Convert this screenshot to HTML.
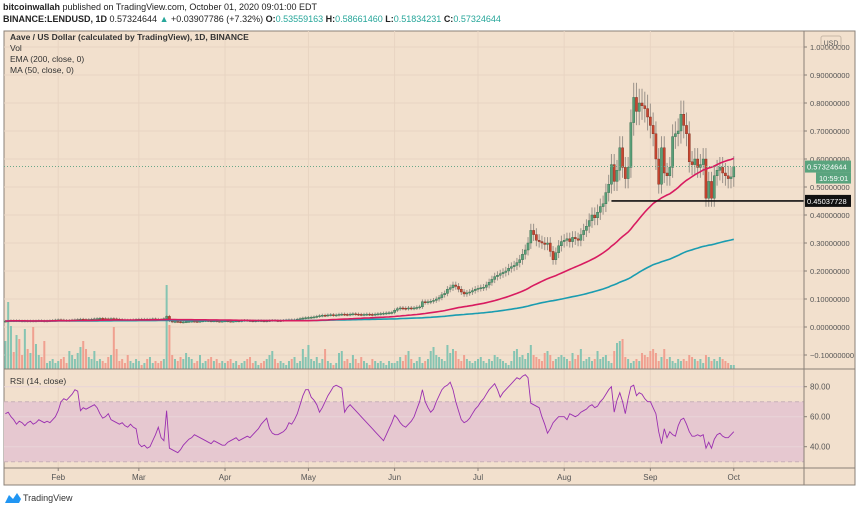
<!DOCTYPE html>
<html><head><meta charset="utf-8">
<style>
body{margin:0;width:860px;height:509px;background:#fff;font-family:"Liberation Sans",sans-serif;overflow:hidden;position:relative}
.hdr{position:absolute;left:3px;font-size:9px;color:#222;white-space:nowrap}
.g{color:#26a69a}
svg{position:absolute;left:0;top:0}
</style></head><body>
<div class="hdr" style="top:2px"><b>bitcoinwallah</b> published on TradingView.com, October 01, 2020 09:01:00 EDT</div>
<div class="hdr" style="top:14px"><b>BINANCE:LENDUSD, 1D</b> 0.57324644 <span class="g">▲</span> +0.03907786 (+7.32%) <b>O:</b><span class="g">0.53559163</span> <b>H:</b><span class="g">0.58661460</span> <b>L:</b><span class="g">0.51834231</span> <b>C:</b><span class="g">0.57324644</span></div>
<svg id="c" width="860" height="509"></svg>
<script>
const months=["Feb","Mar","Apr","May","Jun","Jul","Aug","Sep","Oct"];
const monthDay=[19,48,79,109,140,170,201,232,262];
const priceTicks=[-0.1,0,0.1,0.2,0.3,0.4,0.5,0.6,0.7,0.8,0.9,1.0];
const rsiTicks=[40,60,80];
const closes=[0.021,0.022,0.023,0.022,0.023,0.022,0.021,0.022,0.021,0.022,0.021,0.022,0.023,0.022,0.021,0.022,0.023,0.024,0.025,
0.026,0.025,0.024,0.023,0.024,0.025,0.026,0.027,0.028,0.027,0.026,0.027,0.028,0.029,0.030,0.031,0.030,0.029,0.028,0.030,0.029,0.028,0.027,0.026,0.025,0.024,0.025,0.026,0.027,
0.028,0.027,0.028,0.027,0.028,0.029,0.028,0.027,0.026,0.030,0.038,0.022,0.018,0.020,0.019,0.017,0.018,0.019,0.020,0.021,0.020,0.019,0.021,0.022,0.023,0.022,0.021,0.022,0.021,0.020,0.021,
0.022,0.021,0.020,0.021,0.022,0.021,0.023,0.024,0.023,0.022,0.021,0.022,0.023,0.022,0.021,0.022,0.023,0.024,0.023,0.022,0.023,0.024,0.025,0.026,0.025,0.026,0.028,0.030,0.032,0.033,
0.034,0.035,0.036,0.038,0.040,0.042,0.041,0.043,0.044,0.042,0.043,0.045,0.046,0.045,0.044,0.046,0.047,0.046,0.045,0.044,0.045,0.046,0.045,0.044,0.046,0.047,0.048,0.049,0.050,0.051,0.052,
0.060,0.065,0.068,0.067,0.066,0.068,0.067,0.068,0.070,0.072,0.090,0.088,0.090,0.092,0.095,0.100,0.105,0.115,0.120,0.135,0.140,0.150,0.145,0.135,0.125,0.118,0.122,0.125,0.130,0.135,
0.138,0.140,0.142,0.150,0.160,0.170,0.180,0.185,0.190,0.195,0.200,0.210,0.215,0.220,0.230,0.240,0.260,0.275,0.300,0.345,0.330,0.310,0.305,0.300,0.295,0.300,0.270,0.240,0.265,0.290,0.305,
0.310,0.315,0.305,0.320,0.315,0.310,0.330,0.345,0.360,0.380,0.400,0.390,0.410,0.430,0.440,0.480,0.510,0.580,0.520,0.560,0.640,0.570,0.530,0.570,0.730,0.820,0.770,0.800,0.790,0.780,0.750,
0.720,0.690,0.600,0.510,0.640,0.550,0.540,0.570,0.680,0.690,0.700,0.760,0.720,0.690,0.590,0.580,0.600,0.570,0.580,0.600,0.460,0.520,0.460,0.540,0.560,0.570,0.550,0.540,0.530,0.536,
0.573];
const volumes=[28,67,43,17,34,30,14,40,20,16,42,25,14,12,28,6,8,10,6,
8,10,12,6,18,14,10,16,22,28,20,12,10,18,8,10,8,6,12,14,42,20,8,10,6,14,8,6,10,
8,4,6,10,12,6,8,6,8,10,84,44,14,10,8,12,10,16,12,10,6,8,14,6,8,10,12,8,10,6,8,
6,8,10,6,8,4,6,8,10,12,6,8,4,6,8,10,14,18,10,6,8,6,4,8,10,12,6,8,20,12,
24,10,8,12,6,10,20,8,6,4,6,16,18,8,10,6,14,10,6,12,8,6,4,10,8,6,8,6,4,8,6,
6,8,12,8,14,18,10,6,8,12,6,8,10,18,22,14,12,10,8,24,16,20,18,10,8,14,10,8,6,8,
10,12,8,6,10,8,14,12,10,8,6,4,8,18,20,12,14,10,16,24,14,12,10,8,16,18,14,8,10,12,14,
12,10,8,16,10,14,20,8,10,12,8,10,18,10,12,14,8,6,18,26,28,30,12,10,6,8,10,8,16,14,12,
18,20,16,8,12,20,10,12,8,6,10,8,10,8,14,12,10,8,10,6,14,12,8,10,8,12,10,8,6,4,
4];
const rsi=[62,63,60,58,55,57,56,54,56,57,55,56,58,57,56,57,56,58,60,
64,70,72,71,73,75,78,77,64,66,65,66,67,68,66,62,59,60,62,58,57,56,55,56,54,53,55,53,52,
42,40,41,39,40,44,48,53,46,44,64,39,38,37,36,38,41,43,45,46,48,47,46,45,44,43,42,44,43,42,41,
41,43,44,45,46,44,45,46,47,46,48,50,52,55,57,59,52,49,48,48,49,50,52,56,55,58,62,68,74,78,
78,73,71,68,63,66,70,74,77,80,81,80,79,63,66,68,66,64,62,60,58,56,54,52,50,48,46,44,48,52,56,
61,59,56,54,53,55,57,60,65,70,78,70,66,63,65,70,74,78,80,81,83,78,70,64,58,56,57,59,62,65,
67,70,72,75,78,80,82,78,73,76,78,80,82,84,86,85,87,88,86,69,68,67,66,60,55,49,52,56,58,60,60,
60,58,62,61,60,61,63,64,65,67,68,66,67,70,72,75,78,80,63,71,76,70,62,72,80,81,74,76,75,72,70,
70,66,62,50,42,52,46,50,48,47,54,58,59,55,50,47,47,48,47,48,39,43,39,45,48,49,47,46,46,48,
50];
const supportLevel=0.45037728, supportStartDay=218;
const lastPriceLabel="0.57324644", countdown="10:59:01", supportLabel="0.45037728";

const NS="http://www.w3.org/2000/svg", svg=document.getElementById('c');
function el(t,a,p){const e=document.createElementNS(NS,t);for(const k in a)e.setAttribute(k,a[k]);(p||svg).appendChild(e);return e;}
const X0=5.4,DX=2.78,R=804;
const xs=d=>X0+d*DX;
const yp=v=>327-v*280;
const yr=v=>386.7+(80-v)*1.5;
const yv=v=>369-v*1.0;

const bg=el('rect',{x:4,y:31,width:851,height:454,fill:'#f2e0cd',stroke:'#8a8078','stroke-width':1});

months.forEach((m,i)=>{const x=xs(monthDay[i]);el('line',{x1:x,x2:x,y1:31,y2:468,stroke:'#e8d4c2','stroke-width':1});});
priceTicks.forEach(v=>{el('line',{x1:4,x2:R,y1:yp(v),y2:yp(v),stroke:'#e8d4c2'});});
const band=el('rect',{x:4,y:yr(70),width:R-4,height:yr(30)-yr(70),fill:'#e6c8d0'});

[70,30].forEach(v=>el('line',{x1:4,x2:R,y1:yr(v),y2:yr(v),stroke:'#c8b0b8','stroke-dasharray':'4,3'}));
rsiTicks.forEach(v=>el('line',{x1:4,x2:R,y1:yr(v),y2:yr(v),stroke:'#e8d4d8'}));
volumes.forEach((v,i)=>{const up=i==0||closes[i]>=closes[i-1];const b=el('rect',{x:xs(i)-1,y:yv(v),width:2,height:v,fill:up?'#86c4b2':'#f0a090'});
});
closes.forEach((c,i)=>{const o=i?closes[i-1]:c;const hi=Math.max(o,c)*1.06+0.003,lo=Math.min(o,c)*0.94-0.003;const x=xs(i);
el('line',{x1:x,x2:x,y1:yp(hi),y2:yp(lo),stroke:'#9a928a','stroke-width':1});
const up=c>=o;const t=yp(Math.max(o,c)),h=Math.max(1,yp(Math.min(o,c))-t);
const r=el('rect',{x:x-1.1,y:t,width:2.2,height:h,fill:up?'#5a9e78':'#c8452f',stroke:up?'#2f6a4a':'#7a2a1e','stroke-width':0.4});
});
let ma=[],ema=[],e=closes[0];
closes.forEach((c,i)=>{const s=closes.slice(Math.max(0,i-49),i+1);ma.push(s.reduce((a,b)=>a+b,0)/s.length);e=i?e+(c-e)*2/201:c;ema.push(e);});
const pl=(arr,f)=>arr.map((v,i)=>xs(i).toFixed(1)+','+f(v).toFixed(1)).join(' ');
const emaL=el('polyline',{points:pl(ema,yp),fill:'none',stroke:'#1a9cb0','stroke-width':1.6});

const maL=el('polyline',{points:pl(ma,yp),fill:'none',stroke:'#d81b60','stroke-width':1.6});

const sp=el('line',{x1:xs(supportStartDay),x2:R,y1:yp(supportLevel),y2:yp(supportLevel),stroke:'#111','stroke-width':1.6});

const last=closes[closes.length-1];
el('line',{x1:4,x2:R,y1:yp(last),y2:yp(last),stroke:'#6aa88a','stroke-dasharray':'1,2'});
const rl=el('polyline',{points:pl(rsi,yr),fill:'none',stroke:'#9b30b0','stroke-width':0.9});

el('line',{x1:4,x2:855,y1:369,y2:369,stroke:'#8a8078'});
el('line',{x1:4,x2:855,y1:468,y2:468,stroke:'#8a8078'});
el('line',{x1:R,x2:R,y1:31,y2:485,stroke:'#8a8078'});
const T=(x,y,s,o)=>{const t=el('text',Object.assign({x:x,y:y,'font-size':8,fill:'#555','font-family':'Liberation Sans, sans-serif'},o||{}));t.textContent=s;return t;};
priceTicks.forEach(v=>{el('line',{x1:R,x2:R+3,y1:yp(v),y2:yp(v),stroke:'#8a8078'});const t=T(810,yp(v)+3,(v<0?'−':'')+Math.abs(v).toFixed(8),{'font-size':7.5});});
rsiTicks.forEach(v=>{el('line',{x1:R,x2:R+3,y1:yr(v),y2:yr(v),stroke:'#8a8078'});const t=T(810,yr(v)+3,v.toFixed(2));});
months.forEach((m,i)=>{const x=xs(monthDay[i]);el('line',{x1:x,x2:x,y1:468,y2:471,stroke:'#8a8078'});const t=T(x,480,m,{'text-anchor':'middle'});});
const ub=el('rect',{x:821,y:36,width:20,height:13,rx:2,fill:'none',stroke:'#c8b8a8'});
T(831,45.5,'USD',{'text-anchor':'middle','font-size':7});
el('rect',{x:805,y:yp(last)-6,width:46,height:12,fill:'#5aa47e'});
const lp=T(807,yp(last)+3,lastPriceLabel,{fill:'#fff','font-size':7.5});
el('rect',{x:816,y:yp(last)+6,width:35,height:11,fill:'#5aa47e'});
T(819,yp(last)+14.5,countdown,{fill:'#fff','font-size':7.5});
el('rect',{x:805,y:yp(supportLevel)-6,width:46,height:12,fill:'#111'});
const sl=T(807,yp(supportLevel)+3,supportLabel,{fill:'#fff','font-size':7.5});
const lg=[["Aave / US Dollar (calculated by TradingView), 1D, BINANCE",40,1],["Vol",51,0],["EMA (200, close, 0)",62,0],["MA (50, close, 0)",73,0]];
lg.forEach(a=>{const t=T(10,a[1],a[0],{'font-size':8.5,fill:'#333','font-weight':a[2]?'bold':'normal'});});
const rt=T(10,384,'RSI (14, close)',{'font-size':8.5,fill:'#333'});
const lgo=el('g',{});
el('path',{d:'M5 503 L9 495 L13 499 L17 493 L21 499 L19 503 Z',fill:'#2196f3'},lgo);
const tv=T(23,501,'TradingView',{'font-size':9,fill:'#333'});lgo.appendChild(tv);
</script>
</body></html>
